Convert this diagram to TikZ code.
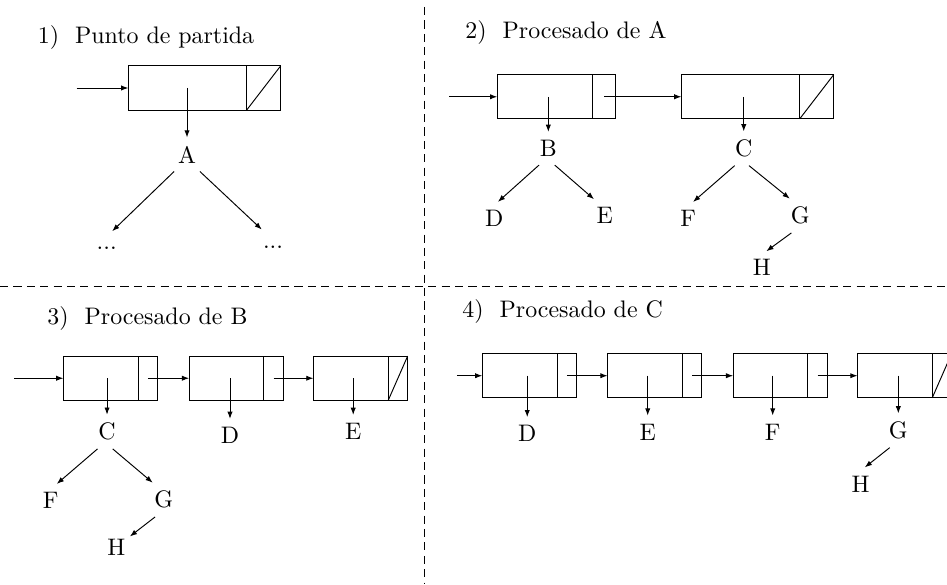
\documentclass[tikz,border=0pt]{standalone}
\usepackage{tikz}
\usetikzlibrary{arrows.meta,positioning}

\tikzset{
  dato/.style={draw, inner sep=0pt, outer sep=0pt, minimum height=0.65cm, minimum width=#1},
  puntero/.style={draw, inner sep=0pt, outer sep=0pt, minimum height=0.65cm, minimum width=#1},
  flecha/.style={-{Latex[length=3pt,width=2.2pt]}},
  separa/.style={dash pattern=on 3.4pt off 2.2pt},
  titulo/.style={anchor=base west, inner sep=0pt},
  puntos/.style={anchor=base, text height=1ex},
}

\begin{document}
\begin{tikzpicture}
\useasboundingbox (0,0) rectangle (13.926,8.588);

% separacion de los cuatro pasos
\draw[separa] (0,4.382) -- (13.926,4.382);
\draw[separa] (6.240,8.485) -- (6.240,0);

% 1) punto de partida
\node[titulo] (t1) at (0.551,7.951) {1)~~Punto de partida};
\node[dato=1.74cm] (n1) at (2.757,7.294) {};
\node[puntero=0.5cm, right=0pt of n1] (p1) {};
\draw (p1.south west) -- (p1.north east);
\coordinate (e1) at (1.128,7.294);
\draw[flecha] (e1) -- (n1);
\node (A1) at (2.750,6.316) {A};
\node[puntos] (dL) at (1.569,4.912) {...};
\node[puntos] (dR) at (4.015,4.937) {...};
\draw[flecha] (A1 |- n1) -- (A1);
\draw[flecha] ([xshift=-5.4pt]A1.south) -- ([xshift=2.3pt]dL.north);
\draw[flecha] ([xshift=5.4pt]A1.south) -- ([xshift=-4.7pt]dR.north);

% 2) procesado de A
\node[titulo] (t2) at (6.838,8.022) {2)~~Procesado de A};
\node[dato=1.4cm] (n2a) at (8.012,7.165) {};
\node[puntero=0.34cm, right=0pt of n2a] (p2a) {};
\node[dato=1.74cm] (n2b) at (10.890,7.165) {};
\node[puntero=0.5cm, right=0pt of n2b] (p2b) {};
\draw (p2b.south west) -- (p2b.north east);
\coordinate (e2) at (6.603,7.165);
\draw[flecha] (e2) -- (n2a);
\draw[flecha] (p2a.center) -- (n2b);
\node (B2) at (8.063,6.404) {B};
\node (C2) at (10.937,6.404) {C};
\node (D2) at (7.269,5.375) {D};
\node (E2) at (8.893,5.415) {E};
\node (F2) at (10.118,5.375) {F};
\node (G2) at (11.768,5.415) {G};
\node (H2) at (11.203,4.650) {H};
\draw[flecha] (B2 |- n2a) -- (B2);
\draw[flecha] (C2 |- n2b) -- (C2);
\draw[flecha] ([xshift=-3.9pt]B2.south) -- ([xshift=1.5pt]D2.north);
\draw[flecha] ([xshift=2.7pt]B2.south) -- ([xshift=-4.5pt]E2.north);
\draw[flecha] ([xshift=-3.8pt]C2.south) -- ([xshift=2.1pt]F2.north);
\draw[flecha] ([xshift=2.2pt]C2.south) -- ([xshift=-4.4pt]G2.north);
\draw[flecha] ([xshift=-3.7pt]G2.south) -- ([xshift=1.9pt]H2.north);

% 3) procesado de B
\node[titulo] (t3) at (0.691,3.813) {3)~~Procesado de B};
\node[dato=1.1cm] (n3a) at (1.482,3.026) {};
\node[puntero=0.285cm, right=0pt of n3a] (p3a) {};
\node[dato=1.1cm] (n3b) at (3.331,3.026) {};
\node[puntero=0.285cm, right=0pt of n3b] (p3b) {};
\node[dato=1.1cm] (n3c) at (5.159,3.026) {};
\node[puntero=0.285cm, right=0pt of n3c] (p3c) {};
\draw (p3c.south west) -- (p3c.north east);
\coordinate (e3) at (0.206,3.026);
\draw[flecha] (e3) -- (n3a);
\draw[flecha] (p3a.center) -- (n3b);
\draw[flecha] (p3b.center) -- (n3c);
\node (C3) at (1.574,2.238) {C};
\node (D3) at (3.382,2.184) {D};
\node (E3) at (5.194,2.243) {E};
\node (F3) at (0.747,1.228) {F};
\node (G3) at (2.407,1.238) {G};
\node (H3) at (1.710,0.543) {H};
\draw[flecha] (C3 |- n3a) -- (C3);
\draw[flecha] (D3 |- n3b) -- (D3);
\draw[flecha] (E3 |- n3c) -- (E3);
\draw[flecha] ([xshift=-4pt]C3.south) -- ([xshift=2.5pt]F3.north);
\draw[flecha] ([xshift=2.4pt]C3.south) -- ([xshift=-4.6pt]G3.north);
\draw[flecha] ([xshift=-3.6pt]G3.south) -- ([xshift=5.7pt,yshift=-2.5pt]H3.north);

% 4) procesado de C
\node[titulo] (t4) at (6.794,3.912) {4)~~Procesado de C};
\node[dato=1.1cm] (n4a) at (7.642,3.063) {};
\node[puntero=0.285cm, right=0pt of n4a] (p4a) {};
\node[dato=1.1cm] (n4b) at (9.485,3.063) {};
\node[puntero=0.285cm, right=0pt of n4b] (p4b) {};
\node[dato=1.1cm] (n4c) at (11.331,3.063) {};
\node[puntero=0.285cm, right=0pt of n4c] (p4c) {};
\node[dato=1.1cm] (n4d) at (13.159,3.063) {};
\node[puntero=0.285cm, right=0pt of n4d] (p4d) {};
\draw (p4d.south west) -- (p4d.north east);
\coordinate (e4) at (6.720,3.063);
\draw[flecha] (e4) -- (n4a);
\draw[flecha] (p4a.center) -- (n4b);
\draw[flecha] (p4b.center) -- (n4c);
\draw[flecha] (p4c.center) -- (n4d);
\node (D4) at (7.753,2.209) {D};
\node (E4) at (9.525,2.234) {E};
\node (F4) at (11.363,2.234) {F};
\node (G4) at (13.210,2.257) {G};
\node (H4) at (12.654,1.471) {H};
\draw[flecha] (D4 |- n4a) -- (D4);
\draw[flecha] (E4 |- n4b) -- (E4);
\draw[flecha] (F4 |- n4c) -- (F4);
\draw[flecha] (G4 |- n4d) -- (G4);
\draw[flecha] ([xshift=-3.6pt]G4.south) -- ([xshift=1.8pt]H4.north);
\end{tikzpicture}
\end{document}
